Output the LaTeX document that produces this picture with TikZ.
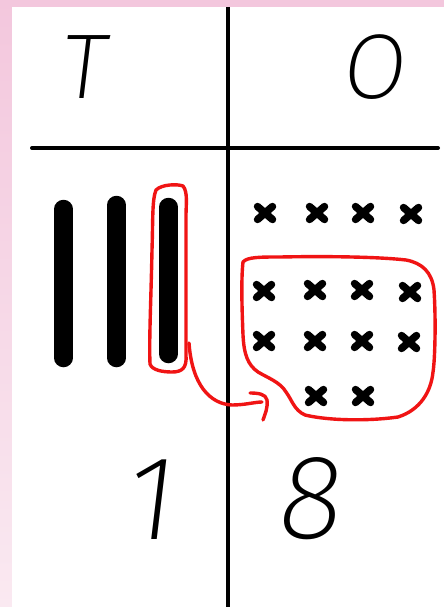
\documentclass[tikz,border=0pt]{standalone}
\usepackage{fontspec}
\newfontfamily\hand{Fira Sans ExtraLight}[FakeSlant=0.12]
\definecolor{pinktop}{RGB}{243,199,221}
\definecolor{pinkbot}{RGB}{250,233,241}
\definecolor{inkred}{RGB}{240,20,20}
\tikzset{
  rule/.style={line width=4pt, line cap=round, black},
  bar/.style={line width=18.5pt, line cap=round, black},
  cross/.style={line width=7.5pt, line cap=round, black},
  loop/.style={inkred, line width=3.4pt, line cap=round, line join=round},
  digit/.style={font=\hand\fontsize{120}{120}\selectfont, inner sep=0pt},
  head/.style={font=\hand\fontsize{92}{92}\selectfont, inner sep=0pt}
}
\newcommand{\xmark}[3]{%
  \node[inner sep=0pt, minimum size=0pt] (#1) at (#2,#3) {};
  \draw[cross] (#2-7.5,#3-6.5) -- (#2+7.5,#3+6.5);
  \draw[cross] (#2-7.5,#3+6.5) -- (#2+7.5,#3-6.5);
}
\begin{document}
\begin{tikzpicture}[x=1pt,y=-1pt]
\useasboundingbox (0,0) rectangle (444,607);
% pink frame
\shade[top color=pinktop, bottom color=pinkbot] (0,0) rectangle (12,607);
\fill[pinktop] (0,0) rectangle (444,7);
\fill[white] (12,7) rectangle (444,607);
% grid
\coordinate (vtop) at (228,7);
\coordinate (vbot) at (228,607);
\coordinate (hl) at (32,148);
\coordinate (hr) at (438,148);
\draw[rule, line cap=butt] (vtop) -- (vbot);
\draw[rule] (hl) -- (hr);
% headings
\node[head] (T) at (82,67) {T};
\node[head] (O) at (372,67) {O};
% bars (tens)
\draw[bar] (63.5,209) coordinate (b1t) -- (63.5,358) coordinate (b1b);
\draw[bar] (116.5,205) coordinate (b2t) -- (116.5,358) coordinate (b2b);
\draw[bar] (168.5,207) coordinate (b3t) -- (168.5,354) coordinate (b3b);
% crosses (ones)
\xmark{c11}{265}{213}\xmark{c12}{317}{213}\xmark{c13}{363}{213}\xmark{c14}{411}{214}
\xmark{c21}{264}{291}\xmark{c22}{315}{290}\xmark{c23}{362}{290}\xmark{c24}{410}{292}
\xmark{c31}{264}{341}\xmark{c32}{315}{341}\xmark{c33}{362}{341}\xmark{c34}{409}{342}
\xmark{c42}{316}{396}\xmark{c43}{363}{396}
% red loop around one ten
\draw[loop] (156,190) .. controls (162,184) and (178,184) .. (183,186)
  .. controls (188,192) and (186,205) .. (186,215)
  -- (186,355) .. controls (187,368) and (182,372) .. (172,372)
  .. controls (162,372) and (152,370) .. (150,364)
  .. controls (149,340) and (151,300) .. (152,250)
  .. controls (153,220) and (152,200) .. (156,190) -- cycle;
% red loop around ten ones
\draw[loop] (243,262) .. controls (247,257) and (260,257) .. (280,257)
  .. controls (330,256) and (380,257) .. (406,260)
  .. controls (422,263) and (432,272) .. (434,290)
  .. controls (436,320) and (435,360) .. (433,372)
  .. controls (431,392) and (420,410) .. (398,417)
  .. controls (370,421) and (330,421) .. (305,415)
  .. controls (294,410) and (292,400) .. (286,392)
  .. controls (280,382) and (268,378) .. (258,372)
  .. controls (248,365) and (244,355) .. (243,335)
  .. controls (242,310) and (241,280) .. (243,262) -- cycle;
% exchange arrow
\coordinate (astart) at (189,343);
\coordinate (aend) at (262,402);
\draw[loop] (astart) .. controls (192,385) and (210,404) .. (232,405)
  .. controls (245,405) and (255,402) .. (aend);
\draw[loop] (250,393) .. controls (258,393) and (266,394) .. (267,400)
  .. controls (268,408) and (265,414) .. (263,420);
% numbers
\node[digit] (one) at (148,500) {1};
\node[digit] (eight) at (307,499) {8};
\end{tikzpicture}
\end{document}
